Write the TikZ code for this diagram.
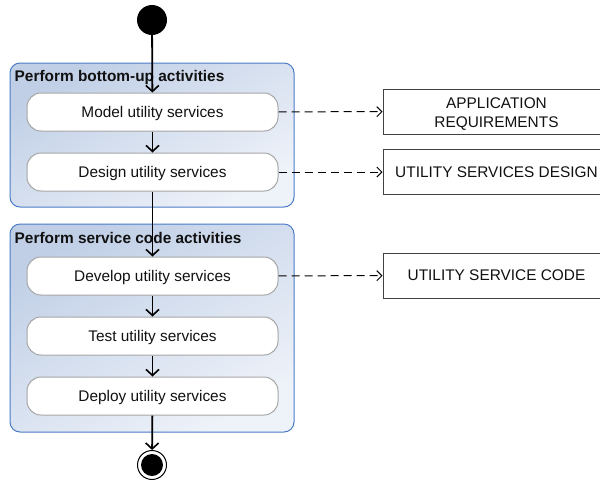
\documentclass[tikz,border=0pt]{standalone}
\usepackage{fontspec}
\setmainfont{Liberation Sans}
\usetikzlibrary{arrows.meta}
\definecolor{grpedge}{HTML}{4A7CC7}
\definecolor{grpdark}{HTML}{C0CFE6}
\definecolor{grplight}{HTML}{EEF2F9}
\definecolor{actedge}{HTML}{A6A6A6}
\definecolor{ink}{HTML}{111111}
\tikzset{
  grp/.style={draw=grpedge, line width=1pt, rounded corners=10pt,
    top color=grpdark, bottom color=grplight, shading angle=30},
  grptitle/.style={anchor=base west, inner sep=0pt, font=\fontsize{15.4}{17}\selectfont\bfseries, text=ink},
  activity/.style={draw=actedge, line width=1pt, fill=white, rounded corners=14pt,
    minimum width=251pt, minimum height=38pt, inner sep=0pt,
    text height=10.8pt, text depth=0pt,
    font=\fontsize{15.4}{17}\selectfont, text=ink},
  artifact/.style={draw=ink!80, line width=1pt, fill=white, minimum width=227pt,
    minimum height=45pt, inner sep=0pt, align=center,
    font=\fontsize{15.4}{19}\selectfont, text=ink},
  oneline/.style={text height=10.8pt, text depth=0pt},
  flow/.style={draw=black, line width=1.8pt, -{Straight Barb[length=6pt,width=13pt,line width=1.6pt]}},
  produces/.style={draw=black, line width=1pt, dash pattern=on 8pt off 5pt,
    -{Straight Barb[length=5pt,width=10pt,line width=1pt]}},
}
\begin{document}
\begin{tikzpicture}[x=1pt,y=-1pt]
  \useasboundingbox (0,0) rectangle (600,483);
  \clip (0,0) rectangle (600,483);
  \fill[white] (0,0) rectangle (600,483);

  % activity groups
  \path[grp] (10,63) rectangle (294,207);
  \node[grptitle] (g1) at (14.5,81) {Perform bottom-up activities};
  \path[grp] (10,224) rectangle (294,432);
  \node[grptitle] (g2) at (14.5,243) {Perform service code activities};

  % initial and final states
  \node[circle, fill=black, minimum size=30pt, inner sep=0pt] (start) at (152,20) {};
  \node[circle, draw=black, line width=1pt, fill=white, minimum size=29pt, inner sep=0pt] (stop) at (152,465) {};
  \node[circle, fill=black, minimum size=22pt, inner sep=0pt] at (stop) {};

  % activities
  \node[activity] (model)   at (152.5,112) {Model utility services};
  \node[activity] (design)  at (152.5,172) {Design utility services};
  \node[activity] (develop) at (152.5,276) {Develop utility services};
  \node[activity] (test)    at (152.5,336) {Test utility services};
  \node[activity] (deploy)  at (152.5,396) {Deploy utility services};

  % artifacts
  \node[artifact] (req)  at (496.5,111.5) {\rule{0pt}{15pt}APPLICATION\\REQUIREMENTS};
  \node[artifact, oneline] (dsg)  at (496.5,172)   {UTILITY SERVICES DESIGN};
  \node[artifact, oneline] (code) at (496.5,275.5) {UTILITY SERVICE CODE};

  % control flow
  \draw[flow] (start) -- (model);
  \draw[flow] (model) -- (design);
  \draw[flow] (design) -- (develop);
  \draw[flow] (develop) -- (test);
  \draw[flow] (test) -- (deploy);
  \draw[flow] (deploy) -- (stop);

  % produced artifacts
  \draw[produces] (model) -- (req);
  \draw[produces] (design) -- (dsg);
  \draw[produces] (develop) -- (code);
\end{tikzpicture}
\end{document}
